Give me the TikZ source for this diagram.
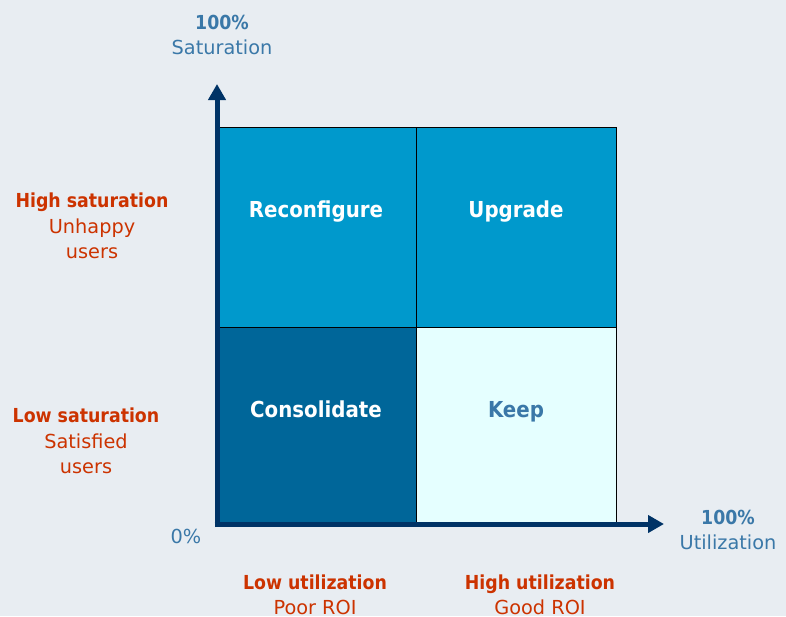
\documentclass[tikz,border=0pt]{standalone}
\usepackage{fontspec}
\setmainfont{DejaVu Sans}
\newfontfamily\condfont{DejaVu Sans Condensed}
\usetikzlibrary{arrows.meta}
\definecolor{bg}{HTML}{E8EDF2}
\definecolor{qtop}{HTML}{0099CC}
\definecolor{qdark}{HTML}{006699}
\definecolor{qlight}{HTML}{E5FFFF}
\definecolor{axis}{HTML}{003366}
\definecolor{bluetxt}{HTML}{3A78A8}
\definecolor{redtxt}{HTML}{CC3300}
\newcommand{\bt}[1]{{\condfont\bfseries #1}}
\begin{document}
\begin{tikzpicture}[x=1pt,y=-1pt,
  lbl/.style={font=\fontsize{19.3}{25.5}\selectfont, align=center, inner sep=0pt},
  quad/.style={draw=black, line width=0.8pt},
  qtext/.style={font=\fontsize{22}{26}\selectfont\condfont\bfseries, inner sep=0pt, anchor=base},
  axisline/.style={draw=axis, line width=5pt, -{Triangle[length=16pt,width=17pt]}}]
\fill[bg] (0,0) rectangle (786,616);
\useasboundingbox (0,0) rectangle (786,616);
% quadrants
\path[quad, fill=qtop] (217,127) rectangle (416,327);
\path[quad, fill=qtop] (416,127) rectangle (616,327);
\path[quad, fill=qdark] (217,327) rectangle (416,524);
\path[quad, fill=qlight] (416,327) rectangle (616,524);
\node[qtext, text=white] (rc) at (316,217) {Reconfigure};
\node[qtext, text=white] (up) at (516,217) {Upgrade};
\node[qtext, text=white] (co) at (316,417) {Consolidate};
\node[qtext, text=bluetxt] (ke) at (516,417) {Keep};
% axes
\coordinate (o1) at (217,527);
\coordinate (ytip) at (217,84);
\coordinate (o2) at (214.5,524);
\coordinate (xtip) at (664,524);
\draw[axisline] (o1) -- (ytip);
\draw[axisline] (o2) -- (xtip);
% axis labels
\node[lbl, text=bluetxt] (sat) at (222,35) {\bt{100\%}\\Saturation};
\node[lbl, text=bluetxt] (uti) at (728,530) {\bt{100\%}\\Utilization};
\node[lbl, text=bluetxt] (zero) at (186,536) {0\%};
\node[lbl, text=redtxt] (hs) at (92,226) {\bt{High saturation}\\Unhappy\\users};
\node[lbl, text=redtxt] (ls) at (86,441) {\bt{Low saturation}\\Satisfied\\users};
\node[lbl, text=redtxt] (lu) at (315,595) {\bt{Low utilization}\\Poor ROI};
\node[lbl, text=redtxt] (hu) at (540,595) {\bt{High utilization}\\Good ROI};
\end{tikzpicture}
\end{document}
